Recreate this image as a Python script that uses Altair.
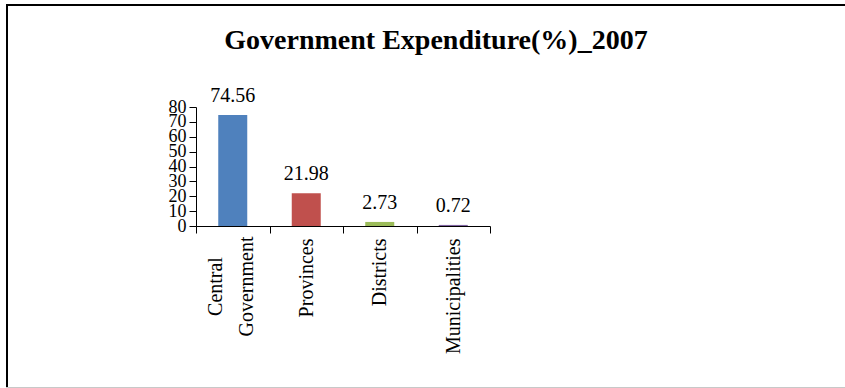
import altair as alt
import pandas as pd

categories = ["Central Government", "Provinces", "Districts", "Municipalities"]
values = [74.56, 21.98, 2.73, 0.72]
labels = ["74.56", "21.98", "2.73", "0.72"]
colors = ["#4F81BD", "#C0504D", "#9BBB59", "#8064A2"]
y_ticks = [0, 10, 20, 30, 40, 50, 60, 70, 80]
title_text = "Government Expenditure(%)_2007"

df = pd.DataFrame({"cat": categories, "val": values, "lab": labels})

FONT = "Liberation Serif"
IS_CG = "datum.value == 'Central Government'"

x_enc = alt.X(
    "cat:N",
    sort=categories,
    scale=alt.Scale(paddingInner=0, paddingOuter=0),
    axis=alt.Axis(
        title=None,
        labelAngle=270,
        labelAlign={"condition": {"test": IS_CG, "value": "center"}, "value": "right"},
        labelBaseline="middle",
        labelFont=FONT,
        labelFontSize=20,
        labelColor="black",
        labelLineHeight=31,
        labelPadding={"condition": {"test": IS_CG, "value": 53}, "value": 5},
        labelOffset={"condition": {"test": IS_CG, "value": -17}, "value": 0},
        labelExpr="datum.value == 'Central Government' ? ['Central', 'Government'] : datum.value",
        tickBand="extent",
        tickSize=7,
        tickColor="black",
        domainColor="black",
        labelOverlap=False,
        grid=False,
    ),
)

y_enc = alt.Y(
    "val:Q",
    scale=alt.Scale(domain=[0, 80], nice=False),
    axis=alt.Axis(
        title=None,
        values=y_ticks,
        labelFont=FONT,
        labelFontSize=18,
        labelColor="black",
        labelPadding=3,
        tickSize=7,
        tickColor="black",
        domainColor="black",
        labelOverlap=False,
        grid=False,
    ),
)

base = alt.Chart(df).encode(x=x_enc, y=y_enc)

bars = base.mark_bar(size=29).encode(
    color=alt.Color("cat:N", sort=categories,
                    scale=alt.Scale(domain=categories, range=colors), legend=None),
)

text = base.mark_text(
    font=FONT, fontSize=20, color="black", baseline="alphabetic", dy=-13
).encode(text="lab:N")

one = alt.Data(values=[{}])
title_mark = alt.Chart(one).mark_text(
    font=FONT, fontSize=28, fontWeight="bold", color="black",
    align="center", baseline="alphabetic"
).encode(
    x=alt.value(240), y=alt.value(-58), text=alt.value(title_text)
)
border_left = alt.Chart(one).mark_rule(color="black", strokeWidth=2).encode(
    x=alt.value(-189), y=alt.value(-103), y2=alt.value(290)
)
border_top = alt.Chart(one).mark_rule(color="black", strokeWidth=2).encode(
    x=alt.value(-190), x2=alt.value(660), y=alt.value(-102)
)
border_bottom = alt.Chart(one).mark_rule(color="#c8c8c8", strokeWidth=2).encode(
    x=alt.value(-190), x2=alt.value(660), y=alt.value(281)
)

chart = alt.layer(bars, text, title_mark, border_left, border_top, border_bottom).properties(
    width=294,
    height=119,
    padding={"left": 196, "top": 107, "right": 355, "bottom": 162},
    autosize=alt.AutoSizeParams(type="none"),
    background="white",
).configure_view(stroke=None)

chart.save("out.html", embed_options={"renderer": "svg", "actions": False})
